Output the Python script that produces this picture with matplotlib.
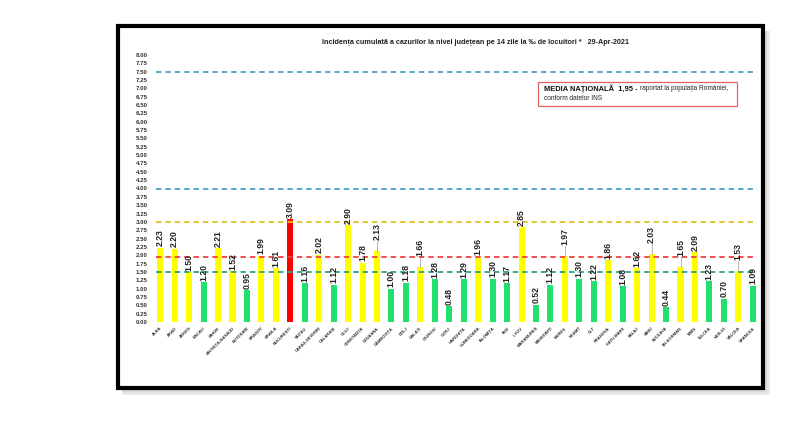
import matplotlib
matplotlib.use("Agg")
import matplotlib.pyplot as plt
from matplotlib.patches import Rectangle
import numpy as np

plt.rcParams['font.family'] = ['Liberation Sans', 'DejaVu Sans']

counties = ["ALBA", "ARAD", "ARGEȘ", "BACĂU", "BIHOR", "BISTRIȚA-NĂSĂUD", "BOTOȘANI",
            "BRAȘOV", "BRĂILA", "BUCUREȘTI", "BUZĂU", "CARAȘ-SEVERIN", "CĂLĂRAȘI", "CLUJ",
            "CONSTANȚA", "COVASNA", "DÂMBOVIȚA", "DOLJ", "GALAȚI", "GIURGIU", "GORJ",
            "HARGHITA", "HUNEDOARA", "IALOMIȚA", "IAȘI", "ILFOV", "MARAMUREȘ", "MEHEDINȚI",
            "MUREȘ", "NEAMȚ", "OLT", "PRAHOVA", "SATU MARE", "SĂLAJ", "SIBIU", "SUCEAVA",
            "TELEORMAN", "TIMIȘ", "TULCEA", "VASLUI", "VÂLCEA", "VRANCEA"]
values = [2.23, 2.20, 1.50, 1.20, 2.21, 1.52, 0.95, 1.99, 1.61, 3.09, 1.16, 2.02, 1.12,
          2.90, 1.78, 2.13, 1.00, 1.18, 1.66, 1.28, 0.48, 1.29, 1.96, 1.30, 1.17, 2.85,
          0.52, 1.12, 1.97, 1.30, 1.22, 1.86, 1.08, 1.62, 2.03, 0.44, 1.65, 2.09, 1.23,
          0.70, 1.53, 1.09]
# counties whose label sits higher with a leader line
leader = ["COVASNA", "GALAȚI", "MUREȘ", "SIBIU", "TELEORMAN", "VÂLCEA"]
thresholds = [7.5, 4.0, 3.0, 1.95, 1.5]
threshold_colors = ["#4BA3C8", "#4BA3C8", "#E0C020", "#F04040", "#2EA08A"]
national_avg = "1,95"
title = "Incidența cumulată a cazurilor la nivel județean pe 14 zile la ‰ de locuitori *   29-Apr-2021"

W, H = 800, 421
fig = plt.figure(figsize=(W / 100, H / 100), dpi=100)
fig.patch.set_facecolor("white")

def px_rect(x0, y0, x1, y1, **kw):
    return Rectangle((x0 / W, 1 - y1 / H), (x1 - x0) / W, (y1 - y0) / H,
                     transform=fig.transFigure, **kw)

# soft shadow
for i, g in enumerate(["#efefef", "#e4e4e4", "#d8d8d8"]):
    d = 6 - i * 1.5
    fig.patches.append(px_rect(122, 31, 764 + d, 389 + d, facecolor=g, edgecolor="none", zorder=0))
fig.patches.append(px_rect(118, 26, 763, 388, facecolor="white", edgecolor="black",
                           linewidth=3.0, zorder=1))

ax = fig.add_axes([153 / W, 1 - 322 / H, (760 - 153) / W, (322 - 55) / H])
ax.set_facecolor("none")
ax.set_zorder(2)

x = np.arange(len(counties))
colors = []
for v in values:
    if v > 3.0:
        colors.append("#FF0000")
    elif v >= 1.5:
        colors.append("#FFFF00")
    else:
        colors.append("#22E070")
ax.bar(x, values, width=0.42, color=colors, zorder=2)

for t, c in zip(thresholds, threshold_colors):
    ax.plot([x[0] - 0.3, x[-1] + 0.3], [t, t], linestyle=(0, (3, 2.2)), color=c,
            linewidth=1.3, zorder=3)

for xi, v, name in zip(x, values, counties):
    if name in leader:
        off = 0.3
        ax.plot([xi, xi], [v, v + off], color="#999999", linewidth=0.5, zorder=4)
        y = v + off + 0.03
    else:
        y = v + 0.04
    ax.text(xi, y, f"{v:.2f}", rotation=90, ha="center", va="bottom",
            fontsize=6.2, fontweight="bold", color="#222222", zorder=5)

ax.set_xlim(-0.5, len(counties) - 0.5)
ax.set_ylim(0, 8.0)
ax.set_yticks(np.arange(0, 8.01, 0.25))
ax.set_yticklabels([f"{t:.2f}" for t in np.arange(0, 8.01, 0.25)], fontsize=4.4,
                   fontweight="bold", color="#333333")
ax.set_xticks(x)
ax.set_xticklabels(counties, rotation=45, ha="right", rotation_mode="anchor",
                   fontsize=3.0, fontweight="bold", color="#333333")
ax.tick_params(axis="both", length=0, pad=3)
ax.tick_params(axis="y", pad=4)
for s in ax.spines.values():
    s.set_visible(False)

fig.text(476 / W, 1 - 43 / H, title, ha="center", va="center", fontsize=5.2,
         fontweight="bold", color="#222222", zorder=5)

# national average box
fig.patches.append(px_rect(538, 82, 737, 106, facecolor="white", edgecolor="#E06060",
                           linewidth=0.9, zorder=3))
t1 = fig.text(544 / W, 1 - 89 / H, f"MEDIA NAȚIONALĂ  {national_avg} - ", ha="left",
              va="center", fontsize=5.4, fontweight="bold", color="#111111", zorder=5)
fig.canvas.draw()
bb = t1.get_window_extent()
fig.text(bb.x1 / W, 1 - 89 / H, "raportat la populația României,", ha="left", va="center",
         fontsize=4.7, color="#222222", zorder=5)
fig.text(544 / W, 1 - 99 / H, "conform datelor INS", ha="left", va="center",
         fontsize=4.7, color="#222222", zorder=5)

fig.savefig("out.png", dpi=100, facecolor="white")
